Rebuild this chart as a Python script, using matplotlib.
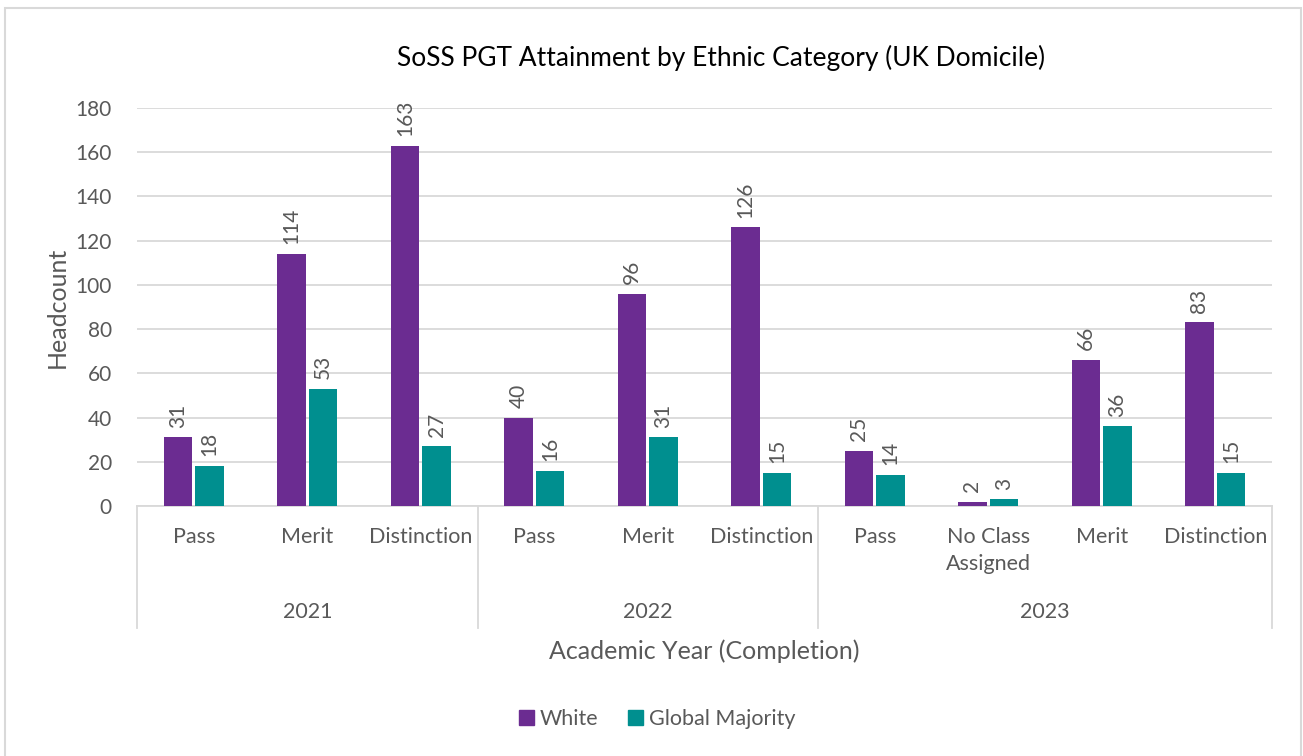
import numpy as np
import matplotlib
matplotlib.use('Agg')
import matplotlib.pyplot as plt
from matplotlib.patches import Rectangle, Patch

plt.rcParams['font.family'] = ['Lato', 'DejaVu Sans']

years = ['2021', '2022', '2023']
classes = [['Pass', 'Merit', 'Distinction'],
           ['Pass', 'Merit', 'Distinction'],
           ['Pass', 'No Class\nAssigned', 'Merit', 'Distinction']]
white = [31, 114, 163, 40, 96, 126, 25, 2, 66, 83]
global_majority = [18, 53, 27, 16, 31, 15, 14, 3, 36, 15]

purple = '#6B2C91'
teal = '#008F8F'
grey_txt = '#595959'
grid_c = '#D9D9D9'

W, H = 1303, 756
fig = plt.figure(figsize=(W / 100, H / 100), dpi=100)
fig.patches.append(Rectangle((5 / W, -0.05), 1296 / W, 1 - 8 / H + 0.05,
                             transform=fig.transFigure, fill=False,
                             edgecolor=grid_c, linewidth=1.5))

ax = fig.add_axes([137 / W, 1 - 506 / H, (1272 - 137) / W, (506 - 108) / H])
n = len(white)
x = np.arange(n)
bw = 0.25
off = 0.14
b1 = ax.bar(x - off, white, bw, color=purple, zorder=3)
b2 = ax.bar(x + off, global_majority, bw, color=teal, zorder=3)

for bars in (b1, b2):
    for r in bars:
        ax.annotate(str(int(r.get_height())),
                    (r.get_x() + r.get_width() / 2, r.get_height()),
                    xytext=(0, 7), textcoords='offset points',
                    rotation=90, ha='center', va='bottom',
                    fontsize=15, color=grey_txt)

ax.set_xlim(-0.5, n - 0.5)
ax.set_ylim(0, 180)
ax.set_yticks(np.arange(0, 181, 20))
ax.tick_params(axis='y', length=0, labelsize=15, labelcolor=grey_txt, pad=18)
ax.set_xticks([])
ax.grid(axis='y', color=grid_c, linewidth=1.3, zorder=0)
for s in ['top', 'right', 'left']:
    ax.spines[s].set_visible(False)
ax.spines['bottom'].set_color(grid_c)
ax.spines['bottom'].set_linewidth(1.3)

# two-level category axis
tr = ax.get_xaxis_transform()
labels = [c for grp in classes for c in grp]
for i, lab in enumerate(labels):
    ax.text(i, -0.053, lab, transform=tr, ha='center', va='top',
            fontsize=15.5, color=grey_txt, linespacing=1.45)
start = 0
bounds = [-0.5]
for y, grp in zip(years, classes):
    mid = start + (len(grp) - 1) / 2
    ax.text(mid, -0.266, y, transform=tr, ha='center', va='center',
            fontsize=15.5, color=grey_txt)
    start += len(grp)
    bounds.append(start - 0.5)
for b in bounds:
    ax.plot([b, b], [0, -0.307], transform=tr, color=grid_c,
            linewidth=1.3, clip_on=False)

ax.text(0.5, -0.365, 'Academic Year (Completion)', transform=ax.transAxes,
        ha='center', va='center', fontsize=18, color=grey_txt)
ax.set_ylabel('Headcount', fontsize=18, color=grey_txt, va='center')
ax.yaxis.set_label_coords(-0.0705, 0.5)

fig.text(721 / W, 1 - 58 / H, 'SoSS PGT Attainment by Ethnic Category (UK Domicile)',
         ha='center', va='center', fontsize=19, color='black')

handles = [Patch(color=purple, label='White'),
           Patch(color=teal, label='Global Majority')]
fig.legend(handles=handles, loc='center', bbox_to_anchor=(657 / W, 1 - 719 / H),
           ncol=2, frameon=False, fontsize=15.5, handlelength=0.7,
           handleheight=0.7, handletextpad=0.25, columnspacing=1.4,
           labelcolor=grey_txt)

fig.savefig('out.png', dpi=100)
